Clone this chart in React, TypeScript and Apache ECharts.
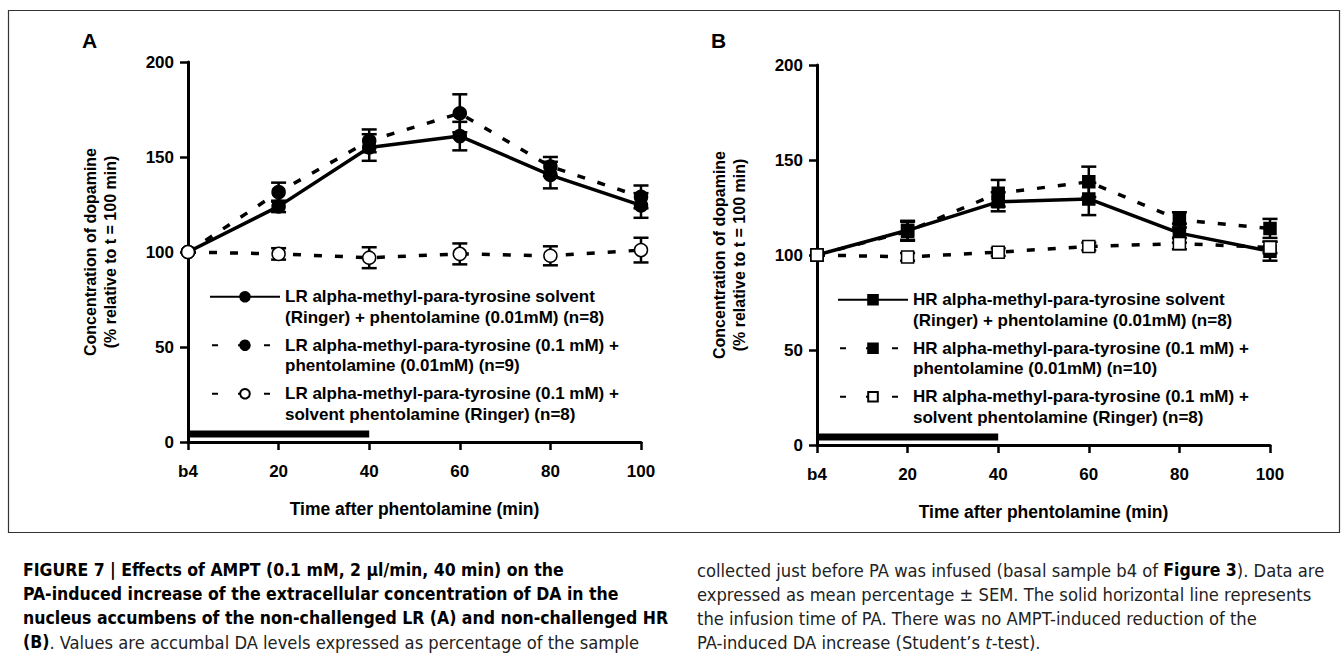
import React, { useEffect, useRef } from "react";
import * as echarts from "echarts";

// ---- data ----
const times = [0, 20, 40, 60, 80, 100];
const xTickLabels = ["b4", "20", "40", "60", "80", "100"];
const infusionSpan = [0, 40];
const infusionLevel = 4.2;

const lrNames = [
  "LR alpha-methyl-para-tyrosine solvent\n(Ringer) + phentolamine (0.01mM) (n=8)",
  "LR alpha-methyl-para-tyrosine (0.1 mM) +\nphentolamine (0.01mM) (n=9)",
  "LR alpha-methyl-para-tyrosine (0.1 mM) +\nsolvent phentolamine (Ringer) (n=8)",
];
const lrSolvent = [100, 124, 155, 161, 140.5, 124.5];
const lrSolventErr = [0, 3, 7, 7.5, 7, 6.5];
const lrAmpt = [100, 131.5, 158.5, 173, 145, 129];
const lrAmptErr = [0, 5, 6, 10, 5, 6];
const lrAmptSolv = [100, 99, 97, 99, 98, 101];
const lrAmptSolvErr = [0, 3, 5.5, 5.5, 5, 6.5];

const hrNames = [
  "HR alpha-methyl-para-tyrosine solvent\n(Ringer) + phentolamine (0.01mM) (n=8)",
  "HR alpha-methyl-para-tyrosine (0.1 mM) +\nphentolamine (0.01mM) (n=10)",
  "HR alpha-methyl-para-tyrosine (0.1 mM) +\nsolvent phentolamine (Ringer) (n=8)",
];
const hrSolvent = [100, 113, 128, 129.5, 111.5, 102];
const hrSolventErr = [0, 5, 5, 8.5, 5, 5];
const hrAmpt = [100, 112.5, 132.5, 138.5, 118.5, 114];
const hrAmptErr = [0, 5, 7, 8, 4, 5];
const hrAmptSolv = [100, 99, 101.5, 104.5, 106, 104];
const hrAmptSolvErr = [0, 2, 2, 2, 3, 3];

const FONT = "'Liberation Sans', Arial, sans-serif";
const NARROW = "'DejaVu Sans Condensed', 'Liberation Sans', sans-serif";

function lineSeries(name: string, values: number[], idx: number, dashed: boolean, symbol: string, filled: boolean, z: number) {
  return {
    type: "line",
    name,
    xAxisIndex: idx,
    yAxisIndex: idx,
    data: times.map((t, i) => [t, values[i]]),
    symbol,
    symbolSize: symbol === "rect" ? 12 : 13,
    showSymbol: true,
    lineStyle: { color: "#000", width: 3.5, type: dashed ? [8, 13] : "solid" },
    itemStyle: { color: filled ? "#000" : "#fff", borderColor: "#000", borderWidth: 1.5 },
    z,
  };
}

function errSeries(values: number[], errs: number[], idx: number) {
  return {
    type: "custom",
    xAxisIndex: idx,
    yAxisIndex: idx,
    data: times.map((t, i) => [t, values[i], errs[i]]),
    z: 1,
    renderItem: (params: any, api: any) => {
      const x = api.value(0);
      const y = api.value(1);
      const e = api.value(2);
      if (!e) return null;
      const top = api.coord([x, y + e]);
      const bot = api.coord([x, y - e]);
      const hw = 7.5;
      const st = { stroke: "#000", lineWidth: 2.5 };
      return {
        type: "group",
        children: [
          { type: "line", shape: { x1: top[0], y1: top[1], x2: bot[0], y2: bot[1] }, style: st },
          { type: "line", shape: { x1: top[0] - hw, y1: top[1], x2: top[0] + hw, y2: top[1] }, style: st },
          { type: "line", shape: { x1: bot[0] - hw, y1: bot[1], x2: bot[0] + hw, y2: bot[1] }, style: st },
        ],
      };
    },
  };
}

function infusionSeries(idx: number) {
  return {
    type: "line",
    xAxisIndex: idx,
    yAxisIndex: idx,
    data: infusionSpan.map((t) => [t, infusionLevel]),
    symbol: "none",
    lineStyle: { color: "#000", width: 7 },
    z: 2,
    silent: true,
  };
}

function xAxis(idx: number) {
  return {
    type: "value",
    gridIndex: idx,
    min: 0,
    max: 100,
    interval: 20,
    name: "Time after phentolamine (min)",
    nameLocation: "middle",
    nameGap: 58,
    nameTextStyle: { fontFamily: FONT, fontWeight: "bold", fontSize: 17.5, color: "#000" },
    axisLine: { lineStyle: { color: "#000", width: 3 } },
    axisTick: { length: 8, lineStyle: { color: "#000", width: 2.5 } },
    axisLabel: {
      margin: 21,
      fontFamily: FONT,
      fontWeight: "bold",
      fontSize: 17,
      color: "#000",
      formatter: (v: number) => xTickLabels[times.indexOf(v)] ?? String(v),
    },
    splitLine: { show: false },
  };
}

function yAxis(idx: number) {
  return {
    type: "value",
    gridIndex: idx,
    min: 0,
    max: 200,
    interval: 50,
    name: "Concentration of dopamine\n(% relative to t = 100 min)",
    nameLocation: "middle",
    nameGap: 68,
    nameTextStyle: { fontFamily: FONT, fontWeight: "bold", fontSize: 16, lineHeight: 20, color: "#000" },
    axisLine: { show: true, lineStyle: { color: "#000", width: 3 } },
    axisTick: { show: true, length: 8, lineStyle: { color: "#000", width: 2.5 } },
    axisLabel: { margin: 14, fontFamily: FONT, fontWeight: "bold", fontSize: 17, color: "#000" },
    splitLine: { show: false },
  };
}

function legend(names: string[], left: number, top: number) {
  return {
    data: names.map((n, i) =>
      i === 0 ? { name: n } : { name: n, lineStyle: { type: [6, 20], dashOffset: 24 } }
    ),
    orient: "vertical",
    left,
    top,
    padding: 0,
    itemWidth: 70,
    itemHeight: 12,
    itemGap: -13,
    selectedMode: false,
    formatter: (name: string) => "\n" + name,
    textStyle: {
      fontFamily: FONT,
      fontWeight: "bold",
      fontSize: 17,
      lineHeight: 20.5,
      color: "#000",
    },
  };
}

const capLeft = [
  "{b|FIGURE 7 | Effects of AMPT (0.1 mM, 2 μl/min, 40 min) on the}",
  "{b|PA-induced increase of the extracellular concentration of DA in the}",
  "{b|nucleus accumbens of the non-challenged LR (A) and non-challenged HR}",
  "{b|(B)}. Values are accumbal DA levels expressed as percentage of the sample",
];
const capRight = [
  "collected just before PA was infused (basal sample b4 of {b|Figure 3}). Data are",
  "expressed as mean percentage ± SEM. The solid horizontal line represents",
  "the infusion time of PA. There was no AMPT-induced reduction of the",
  "PA-induced DA increase (Student’s {i|t}-test).",
];

export default function App() {
  const ref = useRef<HTMLDivElement>(null);
  useEffect(() => {
    if (!ref.current) return;
    const chart = echarts.init(ref.current, null, { renderer: "svg" });
    const capStyle = (text: string) => ({
      text,
      fontFamily: NARROW,
      fontSize: 18.2,
      fill: "#222",
      verticalAlign: "middle",
      rich: {
        b: { fontFamily: NARROW, fontSize: 17.5, fontWeight: "bold", fill: "#000" },
        i: { fontFamily: NARROW, fontSize: 18.2, fontStyle: "italic", fill: "#222" },
      },
    });
    const capRows = [570, 594, 618, 642];
    const graphics: any[] = [
      { type: "rect", shape: { x: 8.5, y: 10.5, width: 1331, height: 522 }, style: { fill: "none", stroke: "#333", lineWidth: 1.2 }, silent: true },
      { type: "text", x: 82, y: 40, style: { text: "A", fontFamily: FONT, fontWeight: "bold", fontSize: 21, fill: "#000", verticalAlign: "middle" } },
      { type: "text", x: 711, y: 40, style: { text: "B", fontFamily: FONT, fontWeight: "bold", fontSize: 21, fill: "#000", verticalAlign: "middle" } },
    ];
    capLeft.forEach((t, i) => graphics.push({ type: "text", x: 23, y: capRows[i], style: capStyle(t) }));
    capRight.forEach((t, i) => graphics.push({ type: "text", x: 697, y: capRows[i], style: capStyle(t) }));

    chart.setOption({
      animation: false,
      grid: [
        { left: 188, right: 1341 - 641, top: 62, bottom: 659 - 442 },
        { left: 817, right: 1341 - 1270, top: 65, bottom: 659 - 445 },
      ],
      xAxis: [xAxis(0), xAxis(1)],
      yAxis: [yAxis(0), yAxis(1)],
      legend: [legend(lrNames, 209, 266), legend(hrNames, 837, 269)],
      series: [
        infusionSeries(0),
        errSeries(lrSolvent, lrSolventErr, 0),
        errSeries(lrAmpt, lrAmptErr, 0),
        errSeries(lrAmptSolv, lrAmptSolvErr, 0),
        lineSeries(lrNames[0], lrSolvent, 0, false, "circle", true, 3),
        lineSeries(lrNames[1], lrAmpt, 0, true, "circle", true, 3),
        lineSeries(lrNames[2], lrAmptSolv, 0, true, "circle", false, 4),
        infusionSeries(1),
        errSeries(hrSolvent, hrSolventErr, 1),
        errSeries(hrAmpt, hrAmptErr, 1),
        errSeries(hrAmptSolv, hrAmptSolvErr, 1),
        lineSeries(hrNames[0], hrSolvent, 1, false, "rect", true, 3),
        lineSeries(hrNames[1], hrAmpt, 1, true, "rect", true, 3),
        lineSeries(hrNames[2], hrAmptSolv, 1, true, "rect", false, 4),
      ],
      graphic: graphics,
    });
    return () => chart.dispose();
  }, []);
  return (
    <div
      ref={ref}
      style={{ position: "fixed", left: 0, top: 0, width: 1341, height: 659, background: "#fff" }}
    />
  );
}
